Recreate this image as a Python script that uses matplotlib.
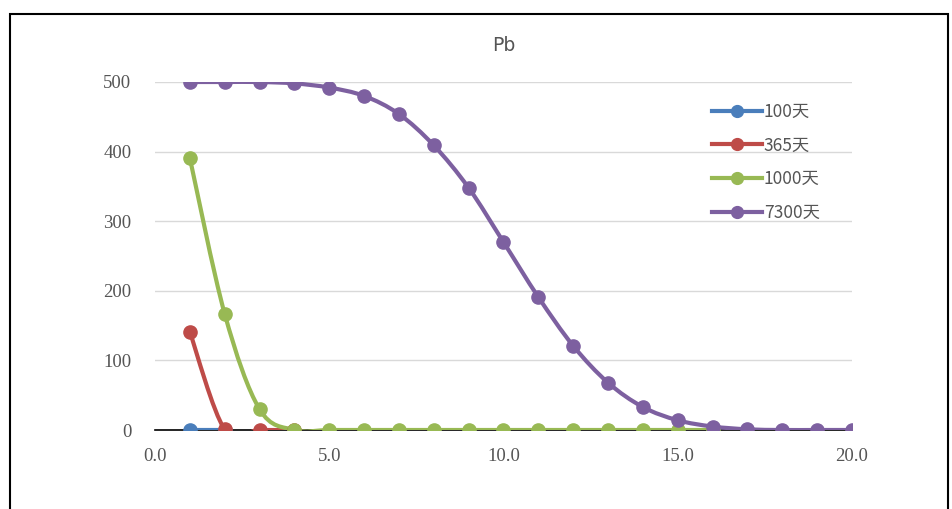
import numpy as np
import matplotlib
matplotlib.use("Agg")
from matplotlib import pyplot as plt
from matplotlib.path import Path
from matplotlib.patches import PathPatch, Rectangle
from matplotlib.lines import Line2D

# data
x_100 = [1, 2]
y_100 = [0, 0]
x_365 = [1, 2, 3, 4]
y_365 = [141, 1, 0, 0]
x_1000 = list(range(1, 17))
y_1000 = [391, 167, 30, 0, 0, 0, 0, 0, 0, 0, 0, 0, 0, 0, 0, 0]
x_7300 = list(range(1, 21))
y_7300 = [500, 500, 500, 498, 492, 480, 454, 409, 348, 270, 191, 121,
          68, 33, 14, 5, 1, 0, 0, 0]

labels = ["100天", "365天", "1000天", "7300天"]
colors = ["#4a7ebb", "#be4b48", "#98b954", "#7d60a0"]
xticks = [0, 5, 10, 15, 20]
yticks = [0, 100, 200, 300, 400, 500]


def smooth_path(xs, ys):
    " cubic bezier through the points, like excel's smoothed line "
    p = np.column_stack([xs, ys]).astype(float)
    n = len(p)
    verts = [p[0]]
    codes = [Path.MOVETO]
    for i in range(n - 1):
        p0 = p[i - 1] if i > 0 else p[i]
        p3 = p[i + 2] if i + 2 < n else p[i + 1]
        c1 = p[i] + (p[i + 1] - p0) / 6
        c2 = p[i + 1] - (p3 - p[i]) / 6
        verts += [c1, c2, p[i + 1]]
        codes += [Path.CURVE4] * 3
    return Path(verts, codes)


fig = plt.figure(figsize=(9.53, 5.09), dpi=100)
ax = fig.add_axes([0.1626, 0.1552, 0.7314, 0.6837])

series = [(x_100, y_100), (x_365, y_365), (x_1000, y_1000), (x_7300, y_7300)]
for (xs, ys), c, lab in zip(series, colors, labels):
    ax.add_patch(PathPatch(smooth_path(xs, ys), facecolor="none",
                           edgecolor=c, lw=3, capstyle="round", zorder=3))
    ax.plot(xs, ys, "o", color=c, ms=9.5, zorder=4)

ax.set_xlim(0, 20)
ax.set_ylim(0, 500)
ax.set_xticks(xticks)
ax.set_xticklabels(["%.1f" % t for t in xticks])
ax.set_yticks(yticks)
ax.yaxis.grid(True, color="#d9d9d9", lw=1)
ax.set_axisbelow(True)
for s in ["top", "right", "left"]:
    ax.spines[s].set_visible(False)
ax.spines["bottom"].set_color("black")
ax.spines["bottom"].set_linewidth(1.2)
ax.tick_params(length=0, labelsize=13.5, labelcolor="#555555")
for t in ax.get_xticklabels() + ax.get_yticklabels():
    t.set_family("Liberation Serif")
ax.tick_params(axis="x", pad=13)
ax.tick_params(axis="y", pad=17)

ax.set_title("Pb", fontsize=13.5, color="#555555", family="DejaVu Sans", pad=22)

handles = [Line2D([], [], color=c, lw=3, marker="o", ms=8.5) for c in colors]
ax.legend(handles, labels, loc="upper left", bbox_to_anchor=(0.789, 0.96),
          frameon=False, handlelength=2.9, handletextpad=0.1, labelspacing=0.9,
          borderaxespad=0, prop={"family": ["Noto Sans CJK SC", "DejaVu Sans"], "size": 12.5},
          labelcolor="#555555")

fig.patches.append(Rectangle((10 / 953, -0.1), 938 / 953, 1 - 14 / 509 + 0.1,
                             transform=fig.transFigure, facecolor="none",
                             edgecolor="black", lw=1.5))

fig.savefig("out.png", dpi=100)
